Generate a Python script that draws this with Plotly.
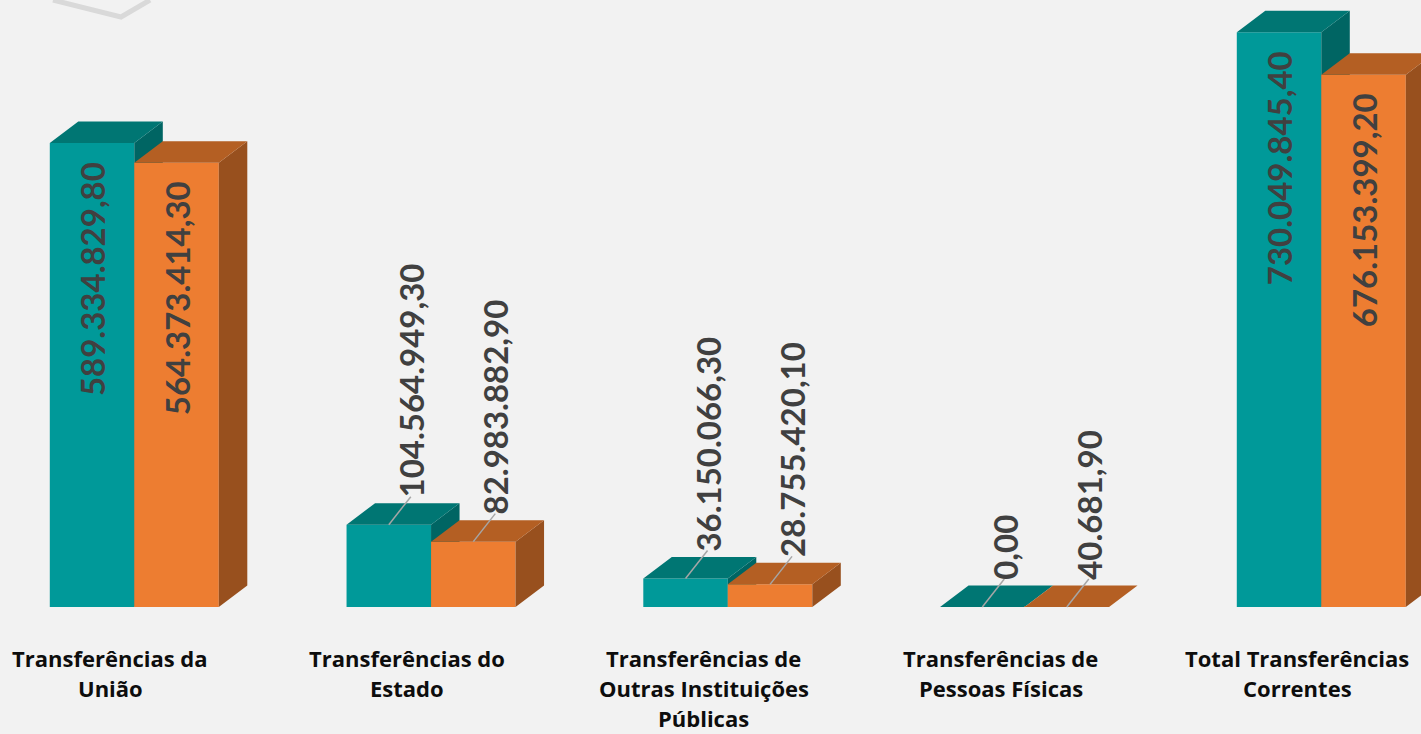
import plotly.graph_objects as go

# ---------------- data ----------------
categories = [
    "Transferências da\nUnião",
    "Transferências do\nEstado",
    "Transferências de\nOutras Instituições\nPúblicas",
    "Transferências de\nPessoas Físicas",
    "Total Transferências\nCorrentes",
]
serie_a = [589334829.80, 104564949.30, 36150066.30, 0.00, 730049845.40]
serie_b = [564373414.30, 82983882.90, 28755420.10, 40681.90, 676153399.20]
labels_a = ["589.334.829,80", "104.564.949,30", "36.150.066,30", "0,00", "730.049.845,40"]
labels_b = ["564.373.414,30", "82.983.882,90", "28.755.420,10", "40.681,90", "676.153.399,20"]

# ---------------- style / geometry (pixels) ----------------
W, H = 1421, 734
CAT_PX = 296.75          # distance between category centres
FIRST_CENTER = 134.3     # pixel x of first category centre
BASE_Y = 607             # pixel y of the zero line
PLOT_SCALE = 464 / 589334829.80  # pixels per unit (scale of the value axis)
BAR_W_PX = 84.5
DEPTH_X, DEPTH_Y = 28.5, 21.5

BG = "#F2F2F2"
TEAL = dict(front="#009999", top="#007673", side="#006563")
ORANGE = dict(front="#ED7D31", top="#B45F23", side="#98501E")
LABEL_COLOR = "#404040"
LEADER = "#A6A6A6"

k = PLOT_SCALE
xr = [-FIRST_CENTER / CAT_PX, (W - FIRST_CENTER) / CAT_PX]
yr = [-(H - BASE_Y) / k, BASE_Y / k]
w = BAR_W_PX / CAT_PX
dxu = DEPTH_X / CAT_PX
dyu = DEPTH_Y / k
xs = list(range(len(categories)))

fig = go.Figure()


def add_series(vals, colors, offset, xa, ya, name):
    fig.add_trace(go.Bar(
        x=xs, y=vals, width=w, offset=offset, name=name,
        marker=dict(color=colors["front"], line=dict(width=0)),
        xaxis=xa, yaxis=ya, showlegend=False, hoverinfo="skip",
    ))
    tx, ty, sx, sy = [], [], [], []
    for i, v in zip(xs, vals):
        x0 = i + offset
        x1 = x0 + w
        tx += [x0, x1, x1 + dxu, x0 + dxu, x0, None]
        ty += [v, v, v + dyu, v + dyu, v, None]
        sx += [x1, x1, x1 + dxu, x1 + dxu, x1, None]
        sy += [0, v, v + dyu, dyu, 0, None]
    fig.add_trace(go.Scatter(x=sx, y=sy, mode="lines", fill="toself",
                             fillcolor=colors["side"], line=dict(width=0),
                             xaxis=xa, yaxis=ya, showlegend=False, hoverinfo="skip"))
    fig.add_trace(go.Scatter(x=tx, y=ty, mode="lines", fill="toself",
                             fillcolor=colors["top"], line=dict(width=0),
                             xaxis=xa, yaxis=ya, showlegend=False, hoverinfo="skip"))


add_series(serie_a, TEAL, -w, "x", "y", "A")
add_series(serie_b, ORANGE, 0.0, "x2", "y2", "B")

# data labels + leader lines
INSIDE_MIN_PX = 300
lx, ly = [], []
annotations = []
for vals, labs, off in ((serie_a, labels_a, -w), (serie_b, labels_b, 0.0)):
    for i, v, lab in zip(xs, vals, labs):
        cx = i + off + w / 2
        hpx = v * k
        if hpx > INSIDE_MIN_PX:
            annotations.append(dict(
                x=cx, y=v, xref="x", yref="y", text=f"<b>{lab}</b>", showarrow=False,
                textangle=-90, xanchor="center", yanchor="top", yshift=-17,
                font=dict(family="Lato", size=33, color=LABEL_COLOR),
            ))
        else:
            annotations.append(dict(
                x=cx, y=v, xref="x", yref="y", text=f"<b>{lab}</b>", showarrow=False,
                textangle=-90, xanchor="center", yanchor="bottom", yshift=25, xshift=22,
                font=dict(family="Lato", size=33, color=LABEL_COLOR),
            ))
            lx += [cx, cx + 22 / CAT_PX, None]
            ly += [v, v + 28 / k, None]

fig.add_trace(go.Scatter(x=lx, y=ly, mode="lines", line=dict(color=LEADER, width=1.5),
                         xaxis="x2", yaxis="y2", showlegend=False, hoverinfo="skip"))

# category labels
LINE1_Y, LINE_STEP = 658, 30
for i, cat in zip(xs, categories):
    for j, line in enumerate(cat.split("\n")):
        annotations.append(dict(
            x=i, xref="x", xshift=-24, y=1 - (LINE1_Y + j * LINE_STEP) / H, yref="paper",
            text=f"<b>{line}</b>", showarrow=False, xanchor="center", yanchor="middle",
            font=dict(family="Open Sans", size=22, color="#0D0D0D"),
        ))

axis_common = dict(visible=False, showgrid=False, zeroline=False, fixedrange=True)
fig.update_layout(
    width=W, height=H,
    margin=dict(l=0, r=0, t=0, b=0),
    paper_bgcolor=BG, plot_bgcolor=BG,
    xaxis=dict(range=xr, **axis_common),
    yaxis=dict(range=yr, **axis_common),
    xaxis2=dict(range=xr, overlaying="x", **axis_common),
    yaxis2=dict(range=yr, overlaying="y", **axis_common),
    annotations=annotations,
    shapes=[dict(type="path", xref="paper", yref="paper",
                 path=f"M {53/W},1 L {121/W},{1-17/H} L {150/W},1",
                 line=dict(color="#D9D9D9", width=5), layer="below")],
)

fig.write_html(
    "out.html",
    config={"displayModeBar": False},
    post_script="document.body.style.margin='0';document.body.style.background='#F2F2F2';",
)
